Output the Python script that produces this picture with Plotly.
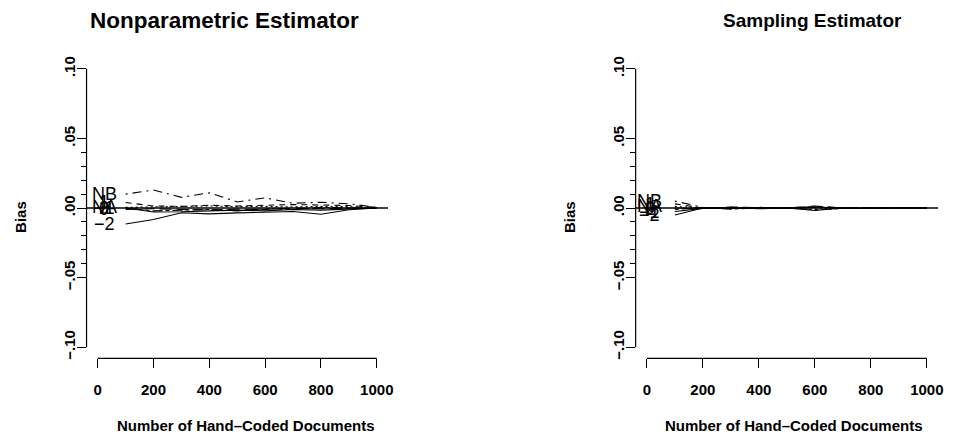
import plotly.graph_objects as go

W, H = 953, 437

x_docs = [100, 200, 300, 400, 500, 600, 700, 800, 900, 1000]
categories = ["NB", "1", "NA", "0", "2", "\u22121", "\u22122"]
dash_styles = ["2px,5px,9px,5px", "6px,5px", "2px,3px", "12px,5px", "4px,3px,10px,3px", "solid", "solid"]

bias_nonparam = {
    "NB": [0.010, 0.013, 0.0077, 0.011, 0.0044, 0.0073, 0.0034, 0.0042, 0.003, 0.0006],
    "1": [0.004, 0.0015, 0.0012, 0.002, 0.0015, 0.002, 0.0025, 0.0022, 0.0018, 0.0005],
    "NA": [0.0005, 0.0008, 0.0013, 0.0015, 0.001, 0.0012, 0.0008, 0.0012, 0.001, 0.0003],
    "0": [-0.001, -0.0005, -0.001, -0.0015, -0.0008, -0.001, 0.0, -0.0005, 0.0, 0.0],
    "2": [0.0, -0.002, -0.0015, -0.001, -0.002, -0.0005, -0.001, 0.0005, 0.0, 0.0002],
    "\u22121": [0.0, -0.0028, -0.0027, -0.002, -0.0015, -0.002, -0.001, -0.0015, -0.0005, 0.0],
    "\u22122": [-0.0115, -0.0082, -0.0034, -0.0042, -0.0035, -0.003, -0.0025, -0.0045, -0.0012, 0.0],
}
bias_sampling = {
    "NB": [0.005, 0.0005, 0.0, 0.0003, 0.0, 0.0005, 0.0, 0.0002, 0.0, 0.0],
    "1": [0.003, 0.0, 0.0005, -0.0003, 0.0003, 0.001, 0.0, -0.0002, 0.0003, 0.0],
    "NA": [0.0012, 0.0, -0.0004, 0.0005, 0.0, -0.0008, 0.0002, 0.0, -0.0002, 0.0],
    "0": [0.0, -0.0003, 0.0008, 0.0, -0.0003, 0.0015, 0.0, 0.0003, 0.0, 0.0],
    "2": [-0.001, 0.0003, -0.0008, 0.0002, 0.0002, -0.0012, -0.0003, 0.0, 0.0002, 0.0],
    "\u22121": [-0.0025, -0.0002, 0.0003, -0.0005, 0.0, -0.0018, 0.0, -0.0003, 0.0, 0.0],
    "\u22122": [-0.005, 0.0, -0.0003, 0.0004, -0.0002, 0.0008, 0.0, 0.0, -0.0002, 0.0],
}

x_ticks = [0, 200, 400, 600, 800, 1000]
y_ticks = [-0.10, -0.05, 0.0, 0.05, 0.10]
y_tick_text = ["\u2212.10", "\u2212.05", ".00", ".05", ".10"]
y_minor = [-0.04, -0.03, -0.02, -0.01, 0.01, 0.02, 0.03, 0.04]

titles = ["Nonparametric Estimator", "Sampling Estimator"]
x_title = "Number of Hand\u2013Coded Documents"
y_title = "Bias"

XR = [-40, 1040]
YR = [-0.108, 0.108]

def px(x):
    return x / W

def py(y):
    return 1 - y / H

panels = [
    dict(data=bias_nonparam, dom=[px(87), px(390)], label_x=23, xa="x", ya="y",
         title_x=226, title_size=22.5, xt_x=247, yt_x=20),
    dict(data=bias_sampling, dom=[px(639), px(943)], label_x=11, xa="x2", ya="y2",
         title_x=817, title_size=19, xt_x=798, yt_x=572),
]

fig = go.Figure()
ydom = [py(359), py(57)]
FONT = "Liberation Sans, Arial, sans-serif"

annotations = []
shapes = []
for i, p in enumerate(panels):
    for cat, dash in zip(categories, dash_styles):
        fig.add_trace(go.Scatter(
            x=x_docs, y=p["data"][cat], mode="lines",
            line=dict(color="black", width=1.1, dash=dash),
            xaxis=p["xa"], yaxis=p["ya"], showlegend=False, hoverinfo="skip"))
        annotations.append(dict(
            x=p["label_x"], y=p["data"][cat][0], xref=p["xa"], yref=p["ya"],
            text=cat, showarrow=False, xanchor="center", yanchor="middle",
            font=dict(family=FONT, size=18, color="black")))
    # zero reference line
    shapes.append(dict(type="line", xref=p["xa"] + " domain", yref=p["ya"],
                       x0=0, x1=1, y0=0, y1=0, line=dict(color="black", width=1.5)))
    # axis lines (R style, from first to last tick)
    shapes.append(dict(type="line", xref=p["xa"], yref=p["ya"] + " domain",
                       x0=x_ticks[0], x1=x_ticks[-1], y0=0, y1=0,
                       line=dict(color="black", width=1.2)))
    shapes.append(dict(type="line", xref=p["xa"] + " domain", yref=p["ya"],
                       x0=0, x1=0, y0=y_ticks[0], y1=y_ticks[-1],
                       line=dict(color="black", width=1.2)))
    annotations.append(dict(
        x=px(p["title_x"]), y=py(20), xref="paper", yref="paper", text="<b>%s</b>" % titles[i],
        showarrow=False, xanchor="center", yanchor="middle",
        font=dict(family=FONT, size=p["title_size"], color="black")))
    annotations.append(dict(
        x=px(p["xt_x"]), y=py(426), xref="paper", yref="paper", text="<b>%s</b>" % x_title,
        showarrow=False, xanchor="center", yanchor="middle",
        font=dict(family=FONT, size=15, color="black")))
    annotations.append(dict(
        x=px(p["yt_x"]), y=py(217), xref="paper", yref="paper", text="<b>%s</b>" % y_title,
        showarrow=False, xanchor="center", yanchor="middle", textangle=-90,
        font=dict(family=FONT, size=15, color="black")))

axis_common_x = dict(range=XR, tickvals=x_ticks, ticktext=["<b>%d</b>" % v for v in x_ticks],
                     ticks="outside", ticklen=9, tickwidth=1.2, tickcolor="black",
                     ticklabelstandoff=9,
                     showline=False, showgrid=False, zeroline=False,
                     tickfont=dict(family=FONT, size=15, color="black"))
axis_common_y = dict(range=YR, tickvals=y_ticks, ticktext=["<b>%s</b>" % t for t in y_tick_text],
                     ticks="outside", ticklen=9, tickwidth=1.2, tickcolor="black",
                     tickangle=-90, ticklabelstandoff=-4,
                     minor=dict(tickmode="array", tickvals=y_minor, ticks="outside",
                                ticklen=5, tickwidth=1, tickcolor="black", showgrid=False),
                     showline=False, showgrid=False, zeroline=False,
                     tickfont=dict(family=FONT, size=15, color="black"))

fig.update_layout(
    width=W, height=H,
    margin=dict(l=0, r=0, t=0, b=0),
    paper_bgcolor="white", plot_bgcolor="white",
    xaxis=dict(domain=panels[0]["dom"], anchor="y", **axis_common_x),
    yaxis=dict(domain=ydom, anchor="x", **axis_common_y),
    xaxis2=dict(domain=panels[1]["dom"], anchor="y2", **axis_common_x),
    yaxis2=dict(domain=ydom, anchor="x2", **axis_common_y),
    annotations=annotations,
    shapes=shapes,
)

fig.write_html("out.html")
